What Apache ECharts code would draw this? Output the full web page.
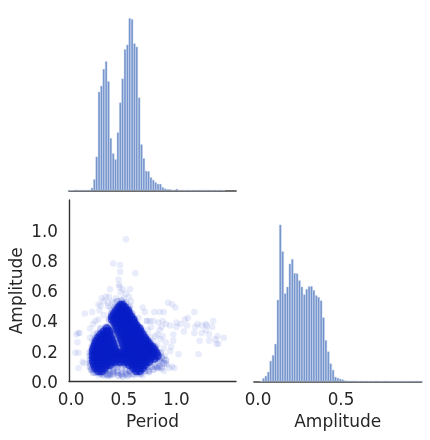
<!DOCTYPE html>
<html><head><meta charset="utf-8">
<style>html,body{margin:0;padding:0;background:#fff}#c{width:430px;height:440px}</style>
<script src="https://cdn.jsdelivr.net/npm/echarts@6/dist/echarts.min.js"></script></head>
<body><div id="c"></div>
<script>
const periodBinStart = -0.037;
const periodBinWidth = 0.0224;
const periodCounts = [0,0,0,2,1,1,1,1,1,1,8,34,102,297,315,366,389,329,158,112,94,175,265,337,425,439,519,516,443,433,280,139,97,59,58,40,32,25,20,20,10,6,4,4,2,2,5,1,1,1,1,1,1,1,1,1,1,1,1,1,1,1,1,1,1,1,1];
const ampBinStart = 0.0115;
const ampBinWidth = 0.01446;
const ampCounts = [1,10,17,29,62,79,113,245,470,390,264,284,353,367,325,324,303,284,261,277,285,286,274,258,253,243,192,124,90,54,35,14,11,8,6,3,2,2,2,2,2,1,2,1,2,1,1,1,2,1,1,1,2,1,1,1,1,1,1,1,1,1,1,1,1,2,1,1];
const xTicks = [0.0,0.5,1.0];
const yTicks = [0.0,0.2,0.4,0.6,0.8,1.0];
const denseRows = [
 [0.505,[0.47,0.49]],
 [0.49,[0.45,0.48,0.51]],
 [0.47,[0.43,0.46,0.49,0.52,0.54]],
 [0.45,[0.41,0.44,0.47,0.50,0.53,0.55]],
 [0.43,[0.39,0.42,0.45,0.48,0.51,0.54,0.57]],
 [0.41,[0.39,0.42,0.45,0.48,0.51,0.54,0.57,0.59]],
 [0.39,[0.41,0.43,0.46,0.49,0.52,0.55,0.58,0.60]],
 [0.37,[0.43,0.46,0.49,0.52,0.55,0.58,0.60,0.62]],
 [0.35,[0.34,0.44,0.47,0.50,0.53,0.56,0.59,0.62,0.65]],
 [0.33,[0.31,0.34,0.36,0.45,0.48,0.51,0.54,0.57,0.60,0.63,0.66]],
 [0.31,[0.28,0.31,0.34,0.36,0.465,0.50,0.53,0.56,0.59,0.62,0.65,0.68]],
 [0.29,[0.26,0.29,0.32,0.35,0.375,0.475,0.51,0.54,0.57,0.60,0.63,0.66,0.70]],
 [0.27,[0.24,0.27,0.30,0.33,0.36,0.385,0.485,0.52,0.55,0.58,0.61,0.64,0.67,0.70,0.72]],
 [0.25,[0.23,0.26,0.29,0.32,0.35,0.375,0.395,0.495,0.53,0.56,0.59,0.62,0.65,0.68,0.71,0.74]],
 [0.23,[0.22,0.25,0.28,0.31,0.34,0.37,0.405,0.505,0.54,0.57,0.60,0.63,0.66,0.69,0.72,0.75,0.77]],
 [0.21,[0.21,0.24,0.27,0.30,0.33,0.36,0.39,0.415,0.515,0.55,0.58,0.61,0.64,0.67,0.70,0.73,0.76,0.79]],
 [0.19,[0.21,0.24,0.27,0.30,0.33,0.36,0.39,0.42,0.45,0.48,0.51,0.54,0.57,0.60,0.63,0.66,0.69,0.72,0.75,0.78,0.81]],
 [0.17,[0.21,0.24,0.27,0.30,0.33,0.36,0.39,0.42,0.45,0.48,0.51,0.54,0.57,0.60,0.63,0.66,0.69,0.72,0.75,0.78,0.82]],
 [0.15,[0.21,0.24,0.27,0.30,0.33,0.36,0.39,0.42,0.45,0.48,0.51,0.54,0.57,0.60,0.63,0.66,0.69,0.72,0.75,0.79]],
 [0.13,[0.21,0.24,0.27,0.30,0.33,0.36,0.39,0.42,0.46,0.50,0.53,0.56,0.59,0.62,0.65,0.68,0.71,0.74]],
 [0.11,[0.22,0.25,0.28,0.31,0.34,0.37,0.55,0.58,0.61,0.64,0.67,0.70]],
 [0.09,[0.23,0.26,0.29,0.32,0.59,0.62,0.65,0.68]],
 [0.07,[0.26,0.29,0.62,0.65]]
];
const haloX = [0.44,0.48,0.52,0.41,0.55,0.38,0.58,0.36,0.60,0.37,0.62,0.38,0.64,0.39,0.66,0.40,0.68,0.41,0.70,0.28,0.33,0.25,0.72,0.23,0.74,0.22,0.76,0.20,0.78,0.19,0.80,0.18,0.82,0.18,0.84,0.18,0.86,0.18,0.84,0.19,0.80,0.20,0.76,0.21,0.72,0.24,0.28,0.32,0.36,0.40,0.44,0.48,0.52,0.56,0.44,0.48,0.52,0.40,0.37,0.34,0.43,0.47,0.51,0.70,0.74,0.78,0.82,0.86,0.88,0.90,0.85,0.80,0.75,0.71,0.66,0.30,0.35,0.40,0.45,0.49,0.54,0.58,0.395,0.405,0.415,0.425,0.435,0.445,0.455,0.465,0.395,0.41,0.425,0.44,0.455];
const haloY = [0.53,0.535,0.52,0.49,0.49,0.45,0.45,0.41,0.41,0.37,0.38,0.34,0.36,0.31,0.33,0.27,0.31,0.24,0.29,0.35,0.36,0.32,0.26,0.29,0.24,0.26,0.22,0.23,0.20,0.20,0.18,0.17,0.16,0.14,0.14,0.12,0.16,0.10,0.10,0.08,0.10,0.08,0.10,0.06,0.10,0.06,0.055,0.07,0.08,0.09,0.10,0.09,0.08,0.07,0.06,0.05,0.05,0.07,0.05,0.05,0.11,0.12,0.11,0.07,0.07,0.08,0.09,0.09,0.12,0.14,0.19,0.23,0.26,0.28,0.05,0.045,0.04,0.05,0.04,0.035,0.04,0.05,0.35,0.33,0.31,0.29,0.27,0.25,0.23,0.21,0.34,0.31,0.28,0.25,0.22];
const sparseX = [0.52,0.40,0.465,0.465,0.61,0.45,0.455,0.46,0.49,0.56,0.37,0.47,0.52,0.33,0.29,0.36,0.31,0.26,0.55,0.57,0.50,0.43,0.39,0.35,0.27,0.23,0.21,0.68,0.92,0.96,0.99,0.79,0.84,0.88,0.75,0.72,0.78,0.83,0.87,0.90,0.94,1.00,1.04,1.08,1.11,1.17,1.10,1.07,1.00,0.97,1.24,1.20,1.18,1.17,1.28,1.28,1.24,1.22,1.31,1.31,1.29,1.35,1.34,1.37,1.39,1.45,1.38,1.40,1.21,1.02,0.95,0.97,0.90,0.94,0.89,0.82,0.78,0.87,0.84,0.73,0.82,0.91,0.86,0.96,0.93,0.82,0.88,0.98,0.13,0.07,0.05,0.08,0.06,0.07,0.11,0.04,0.07,0.12,0.17,0.19,0.22,0.20,0.25,0.18,0.18,0.21,0.20,0.26,0.31,0.28,0.35,0.39,0.37,0.43,0.46,0.41,0.51,0.49,0.56,0.72,0.76,0.80,0.85,0.86,0.70,0.64,0.88,0.80,0.75,0.80,0.68,0.72,0.88,0.90,0.84,0.55,0.60,0.66,0.36,0.32,0.41,0.38,0.30,0.47,0.22,0.26,0.34,0.44,0.56,0.52,0.32,0.62,0.68,0.74];
const sparseY = [0.94,0.78,0.77,0.725,0.715,0.675,0.64,0.625,0.61,0.61,0.61,0.59,0.58,0.56,0.55,0.56,0.53,0.51,0.56,0.53,0.55,0.55,0.53,0.52,0.47,0.40,0.31,0.49,0.52,0.51,0.49,0.46,0.46,0.46,0.40,0.40,0.40,0.39,0.40,0.38,0.37,0.39,0.38,0.41,0.42,0.46,0.37,0.33,0.36,0.31,0.37,0.38,0.36,0.32,0.38,0.34,0.32,0.27,0.27,0.31,0.37,0.40,0.36,0.28,0.30,0.29,0.25,0.25,0.18,0.18,0.23,0.27,0.26,0.20,0.17,0.24,0.27,0.30,0.34,0.34,0.31,0.11,0.13,0.10,0.09,0.10,0.07,0.09,0.45,0.32,0.31,0.32,0.26,0.09,0.13,0.19,0.19,0.12,0.19,0.17,0.20,0.27,0.30,0.29,0.35,0.38,0.46,0.41,0.44,0.50,0.50,0.47,0.49,0.49,0.43,0.52,0.50,0.52,0.50,0.40,0.36,0.30,0.28,0.36,0.46,0.42,0.22,0.22,0.30,0.15,0.10,0.07,0.15,0.12,0.13,0.05,0.04,0.06,0.04,0.04,0.06,0.04,0.06,0.05,0.06,0.04,0.08,0.07,0.07,0.06,0.07,0.05,0.04,0.06];

const densePoints = [];
denseRows.forEach(r => r[1].forEach(x => densePoints.push([x, r[0]])));
const sparsePoints = sparseX.map((x, i) => [x, sparseY[i]]);
const haloPoints = haloX.map((x, i) => [x, haloY[i]]);
const periodBars = periodCounts.map((c, i) => [periodBinStart + (i + 0.5) * periodBinWidth, c]);
const ampBars = ampCounts.map((c, i) => [ampBinStart + (i + 0.5) * ampBinWidth, c]);

const font = 'DejaVu Sans';
const ink = '#262626';
const tickX = {color: ink, fontFamily: font, fontSize: 16.8, margin: 11};
const tickY = {color: ink, fontFamily: font, fontSize: 16.8, margin: 11,
  rich: {t: {color: ink, fontFamily: font, fontSize: 16.8, padding: [4, 0, 0, 0]}}};
const nameStyle = {color: ink, fontFamily: font, fontSize: 17};
const barStyle = {color: '#6f90c9', borderColor: 'rgba(190,206,235,0.9)', borderWidth: 0.5};
const spine = {show: true, onZero: false, lineStyle: {color: '#333', width: 1.4}};
const histLine = {show: true, onZero: false, lineStyle: {color: '#6e6e6e', width: 1.8}};

const chart = echarts.init(document.getElementById('c'), null, {renderer: 'canvas'});
chart.setOption({
  animation: false,
  backgroundColor: '#fff',
  grid: [
    {left: 69, width: 167, top: 9.5, height: 181},
    {left: 69, width: 167, top: 200, height: 181.5},
    {left: 254, width: 167.5, top: 217, height: 164.5}
  ],
  xAxis: [
    {gridIndex: 0, type: 'value', min: -0.02, max: 1.566, axisLine: histLine, axisTick: {show: false}, axisLabel: {show: false}, splitLine: {show: false}},
    {gridIndex: 1, type: 'value', min: -0.02, max: 1.566, axisLine: spine, axisTick: {show: false}, splitLine: {show: false},
     axisLabel: {...tickX, customValues: xTicks, formatter: v => v.toFixed(1)},
     name: 'Period', nameLocation: 'middle', nameGap: 33, nameTextStyle: nameStyle},
    {gridIndex: 2, type: 'value', min: -0.024, max: 0.985, axisLine: histLine, axisTick: {show: false}, splitLine: {show: false},
     axisLabel: {...tickX, customValues: [0.0, 0.5], formatter: v => v.toFixed(1)},
     name: 'Amplitude', nameLocation: 'middle', nameGap: 33, nameTextStyle: nameStyle}
  ],
  yAxis: [
    {gridIndex: 0, type: 'value', min: 0, max: 545, show: false},
    {gridIndex: 1, type: 'value', min: 0, max: 1.2, axisLine: spine, axisTick: {show: false}, splitLine: {show: false},
     axisLabel: {...tickY, customValues: yTicks, formatter: v => '{t|' + v.toFixed(1) + '}'},
     name: 'Amplitude', nameLocation: 'middle', nameGap: 43, nameTextStyle: nameStyle},
    {gridIndex: 2, type: 'value', min: 0, max: 493, show: false}
  ],
  series: [
    {type: 'bar', xAxisIndex: 0, yAxisIndex: 0, data: periodBars, barWidth: 2.36, itemStyle: barStyle, z: 1},
    {type: 'scatter', xAxisIndex: 1, yAxisIndex: 1, data: sparsePoints, symbolSize: 6.5, itemStyle: {color: '#0a28c4', opacity: 0.09}, z: 2},
    {type: 'scatter', xAxisIndex: 1, yAxisIndex: 1, data: haloPoints, symbolSize: 7, itemStyle: {color: '#0a28c4', opacity: 0.18}, z: 3},
    {type: 'scatter', xAxisIndex: 1, yAxisIndex: 1, data: densePoints, symbolSize: 8.5, itemStyle: {color: '#0a20c8', opacity: 0.6, shadowBlur: 2, shadowColor: 'rgba(10,32,200,0.5)'}, z: 4},
    {type: 'bar', xAxisIndex: 2, yAxisIndex: 2, data: ampBars, barWidth: 2.4, itemStyle: barStyle, z: 1}
  ]
});
</script></body></html>
